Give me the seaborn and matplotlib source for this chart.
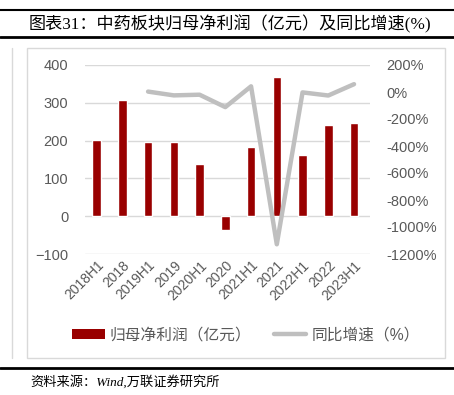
import matplotlib
matplotlib.use("Agg")
import matplotlib.pyplot as plt
import numpy as np
import pandas as pd
import seaborn as sns
from matplotlib.lines import Line2D
from matplotlib.patches import Patch, Rectangle

periods = ["2018H1", "2018", "2019H1", "2019", "2020H1", "2020",
           "2021H1", "2021", "2022H1", "2022", "2023H1"]
profit = [202, 308, 196, 196, 137, -36, 184, 368, 163, 242, 247]
growth_periods = periods[2:]
growth = [3, -25, -20, -112, 42, -1128, -3, -26, 58]

left_ticks = [-100, 0, 100, 200, 300, 400]
right_ticks = [-1200, -1000, -800, -600, -400, -200, 0, 200]

sns.set_theme(style="white")
plt.rcParams['font.family'] = ['Liberation Sans', 'Noto Sans CJK SC', 'DejaVu Sans']
plt.rcParams['axes.unicode_minus'] = True

bar_color = "#990000"
line_color = "#BFBFBF"
text_gray = "#595959"

df_bar = pd.DataFrame({"period": periods, "profit": profit})
pos = {p: i for i, p in enumerate(periods)}
df_line = pd.DataFrame({"x": [pos[p] for p in growth_periods], "growth": growth})

fig = plt.figure(figsize=(4.54, 3.95), dpi=100)
ax = fig.add_axes([85 / 454, 1 - 254 / 395, 285 / 454, 189 / 395])

sns.barplot(data=df_bar, x="period", y="profit", color=bar_color, width=0.33,
            saturation=1, ax=ax, zorder=3)
ax.set_ylim(-100, 400)
ax.set_yticks(left_ticks)
ax.set_xlim(-0.45, 10.62)
ax.grid(axis="y", color="#D9D9D9", linewidth=1, zorder=0)
ax.set_axisbelow(True)
ax.set_xlabel("")
ax.set_ylabel("")
for s in ax.spines.values():
    s.set_visible(False)
ax.tick_params(axis="y", length=0, pad=12, labelsize=10.5, labelcolor=text_gray)
ax.tick_params(axis="x", length=0, pad=3, labelsize=10, labelcolor=text_gray)
ax.set_xticks(range(len(periods)))
ax.set_xticklabels(periods, rotation=45, ha="right", rotation_mode="anchor")

ax2 = ax.twinx()
sns.lineplot(data=df_line, x="x", y="growth", color=line_color, linewidth=3.2,
             ax=ax2, zorder=4)
ax2.set_ylim(-1200, 200)
ax2.set_yticks(right_ticks)
ax2.set_yticklabels([f"{t}%" for t in right_ticks])
ax2.set_xlim(-0.45, 10.62)
ax2.set_xlabel("")
ax2.set_ylabel("")
for s in ax2.spines.values():
    s.set_visible(False)
ax2.tick_params(axis="y", length=0, pad=12, labelsize=10.5, labelcolor=text_gray)
ax2.grid(False)

handles = [Patch(facecolor=bar_color, edgecolor="none"),
           Line2D([0], [0], color=line_color, linewidth=3.2)]
leg = fig.legend(handles, ["归母净利润（亿元）", "同比增速（%）"], loc="center left",
                 bbox_to_anchor=(58 / 454, 1 - 335 / 395), ncol=2, frameon=False,
                 fontsize=11.3, labelcolor=text_gray, handlelength=2.1,
                 handleheight=0.6, handletextpad=0.3, columnspacing=1.4)
for t in leg.get_texts():
    t.set_fontweight("light")

# frames and title band
fig.patches.append(Rectangle((27 / 454, 1 - 358 / 395), 418 / 454, 310 / 395,
                             transform=fig.transFigure, fill=False,
                             edgecolor="#D9D9D9", linewidth=1))
fig.add_artist(Line2D([12 / 454, 12 / 454], [1 - 358 / 395, 1 - 48 / 395],
                      transform=fig.transFigure, color="#D9D9D9", linewidth=1))
fig.add_artist(Line2D([0, 1], [1 - 10 / 395, 1 - 10 / 395],
                      transform=fig.transFigure, color="black", linewidth=1.5))
fig.add_artist(Line2D([0, 1], [1 - 37 / 395, 1 - 37 / 395],
                      transform=fig.transFigure, color="black", linewidth=2))
fig.add_artist(Line2D([0, 1], [1 - 368 / 395, 1 - 368 / 395],
                      transform=fig.transFigure, color="black", linewidth=2))

fig.text(29 / 454, 1 - 24 / 395, "图表31：中药板块归母净利润（亿元）及同比增速(%)",
         fontsize=12.3, color="black", va="center", ha="left", fontweight="light",
         family=['Liberation Serif', 'Noto Sans CJK SC'])
fig.text(30 / 454, 1 - 382 / 395, "资料来源：Wind,万联证券研究所",
         fontsize=9.5, color="black", va="center", ha="left", style="italic",
         fontweight="light", family=['Liberation Serif', 'Noto Sans CJK SC'])

fig.savefig("out.png", dpi=100)
